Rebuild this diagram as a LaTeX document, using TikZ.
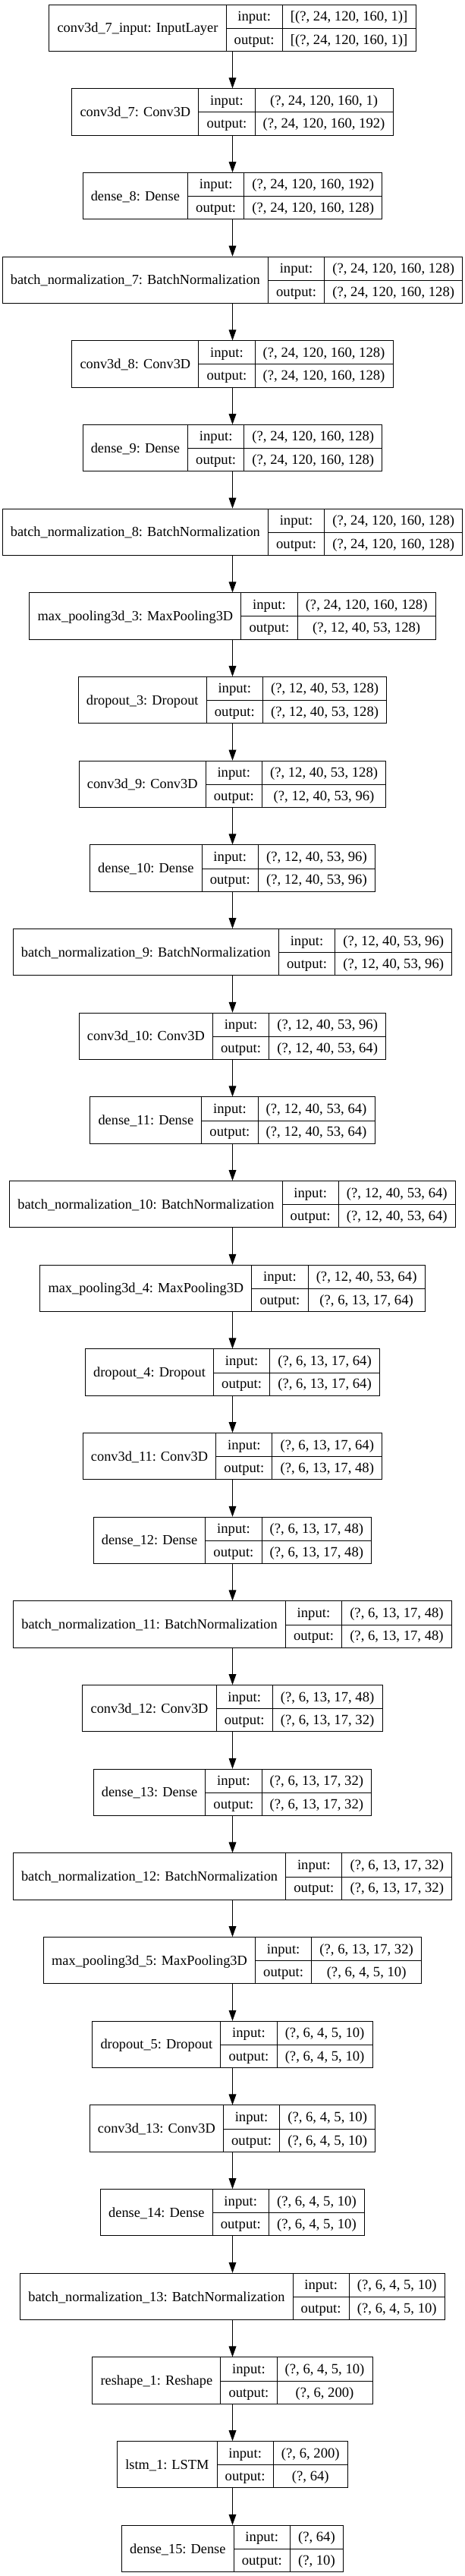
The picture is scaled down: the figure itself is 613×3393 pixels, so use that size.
\documentclass[tikz,border=0pt]{standalone}
\usepackage{fontspec}
\setmainfont{Liberation Serif}
\usetikzlibrary{arrows.meta}

\setlength{\tabcolsep}{8pt}
\setlength{\arrayrulewidth}{0.75pt}
\renewcommand{\arraystretch}{1.35}

% one record: name | input:/output: | shapes
\newcommand{\layertab}[3]{%
  \begin{tabular}{c|c|c}
    & input: & #2\\ \cline{2-3}
    \raisebox{11.5pt}[0pt][0pt]{\fontsize{13.75}{17}\selectfont #1} & output: & #3
  \end{tabular}}

\tikzset{layer/.style={draw, line width=0.75pt, inner sep=0pt, anchor=north,
                       font=\fontsize{14}{17}\selectfont}}

\begin{document}
\begin{tikzpicture}[x=0.75pt, y=-0.75pt,
                    >={Triangle[length=10.5pt,width=7.3pt]},
                    line width=0.75pt
                   ]
\useasboundingbox (0,0) rectangle (613,3393);

\foreach \nm/\vin/\vout [count=\i] in {
  {conv3d\_7\_input: InputLayer}/{[(?, 24, 120, 160, 1)]}/{[(?, 24, 120, 160, 1)]},
  {conv3d\_7: Conv3D}/{(?, 24, 120, 160, 1)}/{(?, 24, 120, 160, 192)},
  {dense\_8: Dense}/{(?, 24, 120, 160, 192)}/{(?, 24, 120, 160, 128)},
  {batch\_normalization\_7: BatchNormalization}/{(?, 24, 120, 160, 128)}/{(?, 24, 120, 160, 128)},
  {conv3d\_8: Conv3D}/{(?, 24, 120, 160, 128)}/{(?, 24, 120, 160, 128)},
  {dense\_9: Dense}/{(?, 24, 120, 160, 128)}/{(?, 24, 120, 160, 128)},
  {batch\_normalization\_8: BatchNormalization}/{(?, 24, 120, 160, 128)}/{(?, 24, 120, 160, 128)},
  {max\_pooling3d\_3: MaxPooling3D}/{(?, 24, 120, 160, 128)}/{(?, 12, 40, 53, 128)},
  {dropout\_3: Dropout}/{(?, 12, 40, 53, 128)}/{(?, 12, 40, 53, 128)},
  {conv3d\_9: Conv3D}/{(?, 12, 40, 53, 128)}/{(?, 12, 40, 53, 96)},
  {dense\_10: Dense}/{(?, 12, 40, 53, 96)}/{(?, 12, 40, 53, 96)},
  {batch\_normalization\_9: BatchNormalization}/{(?, 12, 40, 53, 96)}/{(?, 12, 40, 53, 96)},
  {conv3d\_10: Conv3D}/{(?, 12, 40, 53, 96)}/{(?, 12, 40, 53, 64)},
  {dense\_11: Dense}/{(?, 12, 40, 53, 64)}/{(?, 12, 40, 53, 64)},
  {batch\_normalization\_10: BatchNormalization}/{(?, 12, 40, 53, 64)}/{(?, 12, 40, 53, 64)},
  {max\_pooling3d\_4: MaxPooling3D}/{(?, 12, 40, 53, 64)}/{(?, 6, 13, 17, 64)},
  {dropout\_4: Dropout}/{(?, 6, 13, 17, 64)}/{(?, 6, 13, 17, 64)},
  {conv3d\_11: Conv3D}/{(?, 6, 13, 17, 64)}/{(?, 6, 13, 17, 48)},
  {dense\_12: Dense}/{(?, 6, 13, 17, 48)}/{(?, 6, 13, 17, 48)},
  {batch\_normalization\_11: BatchNormalization}/{(?, 6, 13, 17, 48)}/{(?, 6, 13, 17, 48)},
  {conv3d\_12: Conv3D}/{(?, 6, 13, 17, 48)}/{(?, 6, 13, 17, 32)},
  {dense\_13: Dense}/{(?, 6, 13, 17, 32)}/{(?, 6, 13, 17, 32)},
  {batch\_normalization\_12: BatchNormalization}/{(?, 6, 13, 17, 32)}/{(?, 6, 13, 17, 32)},
  {max\_pooling3d\_5: MaxPooling3D}/{(?, 6, 13, 17, 32)}/{(?, 6, 4, 5, 10)},
  {dropout\_5: Dropout}/{(?, 6, 4, 5, 10)}/{(?, 6, 4, 5, 10)},
  {conv3d\_13: Conv3D}/{(?, 6, 4, 5, 10)}/{(?, 6, 4, 5, 10)},
  {dense\_14: Dense}/{(?, 6, 4, 5, 10)}/{(?, 6, 4, 5, 10)},
  {batch\_normalization\_13: BatchNormalization}/{(?, 6, 4, 5, 10)}/{(?, 6, 4, 5, 10)},
  {reshape\_1: Reshape}/{(?, 6, 4, 5, 10)}/{(?, 6, 200)},
  {lstm\_1: LSTM}/{(?, 6, 200)}/{(?, 64)},
  {dense\_15: Dense}/{(?, 64)}/{(?, 10)}%
}{
  \pgfmathsetmacro{\ytop}{5.7+(\i-1)*110.67}
  \node[layer] (L\i) at (306.5,\ytop) {\layertab{\nm}{\vin}{\vout}};
  \ifnum\i>1
    \pgfmathtruncatemacro{\prev}{\i-1}
    \draw[->] (L\prev) -- (L\i);
  \fi
}
\end{tikzpicture}
\end{document}
